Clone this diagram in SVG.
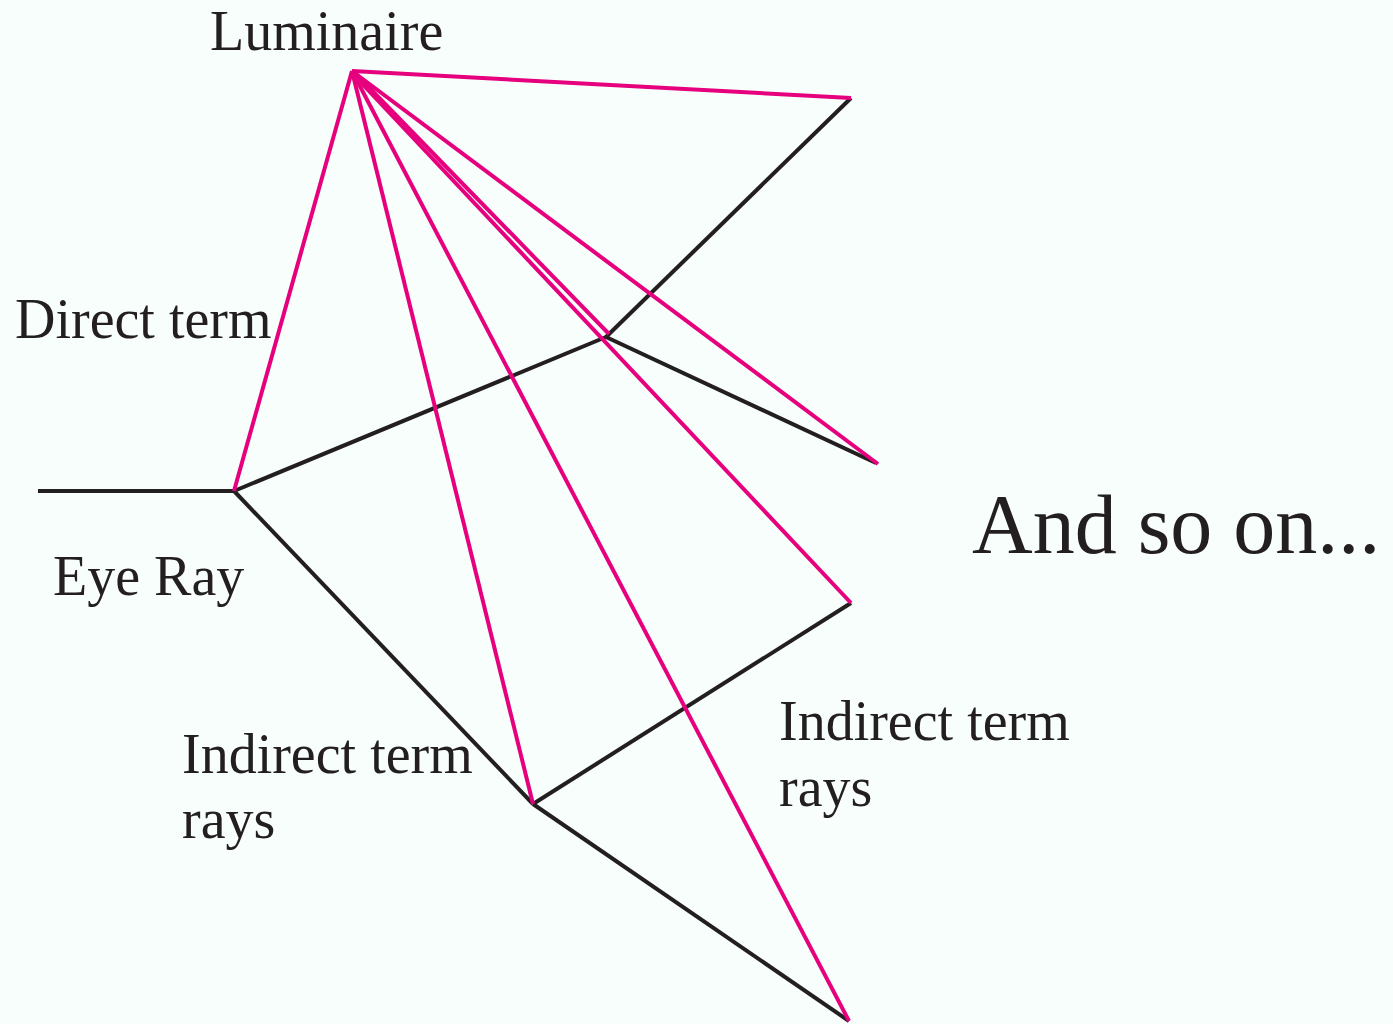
<svg xmlns="http://www.w3.org/2000/svg" width="1393" height="1024" viewBox="0 0 1393 1024">
<style>
.k{stroke:#231F20;stroke-width:4;fill:none;stroke-linecap:butt}
.p{stroke:#E6007E;stroke-width:4;fill:none}
text{font-family:"Liberation Serif","Times New Roman",serif;fill:#231F20;font-size:56px}
</style>
<rect width="1393" height="1024" fill="#F8FEFC"/>
<g id="connectors">
<line class="k" x1="38" y1="491" x2="234" y2="491"/>
<line class="k" x1="234" y1="491" x2="606" y2="337"/>
<line class="k" x1="606" y1="337" x2="851" y2="98"/>
<line class="k" x1="606" y1="337" x2="876" y2="463"/>
<line class="k" x1="234" y1="491" x2="533" y2="804"/>
<line class="k" x1="533" y1="804" x2="851" y2="603"/>
<line class="k" x1="533" y1="804" x2="849" y2="1021"/>
<line class="p" x1="352" y1="71" x2="851" y2="98"/>
<line class="p" x1="352" y1="71" x2="878" y2="464"/>
<line class="p" x1="351" y1="72" x2="851" y2="603"/>
<line class="p" x1="353" y1="71" x2="609" y2="334"/>
<line class="p" x1="352" y1="71" x2="849" y2="1021"/>
<line class="p" x1="352" y1="71" x2="533" y2="804"/>
<line class="p" x1="352" y1="71" x2="234" y2="491"/>
</g>
<g id="luminaire"><text x="210" y="50">Luminaire</text></g>
<g id="direct"><text x="15" y="338">Direct term</text></g>
<g id="eye"><text x="53" y="595">Eye Ray</text></g>
<g id="indirect-left"><text x="182" y="773">Indirect term</text><text x="182" y="838">rays</text></g>
<g id="indirect-right"><text x="779" y="740">Indirect term</text><text x="779" y="806">rays</text></g>
<g id="andso"><text x="972" y="553" style="font-size:84px">And so on...</text></g>
</svg>
